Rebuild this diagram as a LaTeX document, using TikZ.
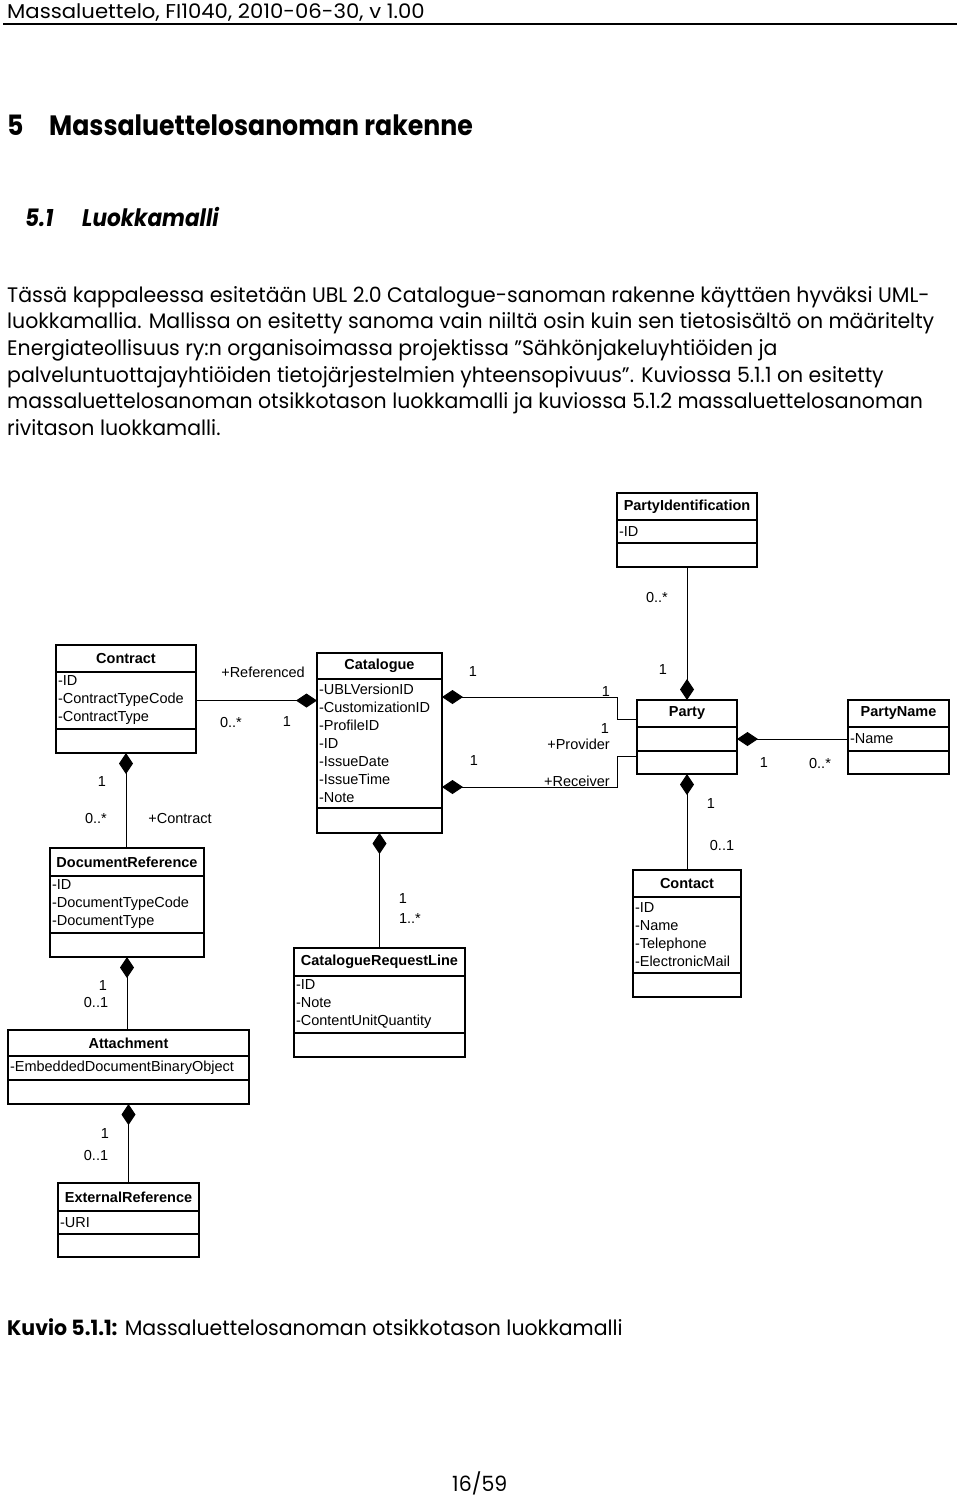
\documentclass[tikz,border=0pt]{standalone}
\usepackage{fontspec}
\setmainfont[FakeStretch=0.975]{Poppins}
\newfontfamily\headfont[FakeStretch=0.9]{Poppins}
\newfontfamily\hdrfont[FakeStretch=1.06]{Poppins}
\newfontfamily\umlfont{Liberation Sans}
\usetikzlibrary{arrows.meta}

\tikzset{
  classbox/.style={draw, line width=1.4pt, inner sep=0pt, outer sep=0pt},
  classhead/.style={classbox, font=\umlfont\bfseries\fontsize{14.5}{18}\selectfont},
  classattr/.style={classbox, font=\umlfont\fontsize{14.5}{18}\selectfont, align=left, inner xsep=2pt},
  assoc/.style={line width=1pt},
  comp/.style={assoc, {Diamond[length=21pt,width=14pt]}-},
  mult/.style={font=\umlfont\fontsize{14.5}{18}\selectfont, inner sep=0pt},
  pagetext/.style={anchor=base west, inner sep=0pt},
  bodytext/.style={pagetext, font=\fontsize{21}{26}\selectfont},
}

% name, left, top, width, head h, attr h, op h, title, attributes
\newcommand{\umlclass}[9]{%
  \pgfmathsetmacro\attrw{#4-4}
  \node[classhead, minimum width=#4pt, minimum height=#5pt, anchor=north west] (#1) at (#2,#3) {#8};
  \node[classattr, minimum width=#4pt, minimum height=#6pt, text width=\attrw pt, anchor=north] (#1-a) at (#1.south) {#9};
  \node[classbox, minimum width=#4pt, minimum height=#7pt, anchor=north] (#1-o) at (#1-a.south) {};
}

\begin{document}
\begin{tikzpicture}[x=1pt, y=-1pt]
  \useasboundingbox (0,0) rectangle (960,1497);

  % page header
  \node[pagetext, font=\hdrfont\fontsize{20}{22}\selectfont] (hdr) at (7,18) {Massaluettelo, FI1040, 2010-06-30, v 1.00};
  \draw [line width=1.3pt] (3,24) -- (957,24);

  % headings
  \node[pagetext, font=\headfont\bfseries\fontsize{28}{32}\selectfont] (h1num) at (7,135) {5};
  \node[pagetext, font=\headfont\bfseries\fontsize{28}{32}\selectfont] (h1) at (49,135) {Massaluettelosanoman rakenne};
  \node[pagetext, font=\headfont\bfseries\itshape\fontsize{24}{28}\selectfont] (h2num) at (25,226) {5.1};
  \node[pagetext, font=\headfont\bfseries\itshape\fontsize{24}{28}\selectfont] (h2) at (82,226) {Luokkamalli};

  % paragraph
  \node[bodytext] (par1) at (7,302) {Tässä kappaleessa esitetään UBL 2.0 Catalogue-sanoman rakenne käyttäen hyväksi UML-};
  \node[bodytext] (par2) at (7,328) {luokkamallia. Mallissa on esitetty sanoma vain niiltä osin kuin sen tietosisältö on määritelty};
  \node[bodytext] (par3) at (7,355) {Energiateollisuus ry:n organisoimassa projektissa ”Sähkönjakeluyhtiöiden ja};
  \node[bodytext] (par4) at (7,382) {palveluntuottajayhtiöiden tietojärjestelmien yhteensopivuus”. Kuviossa 5.1.1 on esitetty};
  \node[bodytext] (par5) at (7,408) {massaluettelosanoman otsikkotason luokkamalli ja kuviossa 5.1.2 massaluettelosanoman};
  \node[bodytext] (par6) at (7,435) {rivitason luokkamalli.};

  % classes
  \umlclass{pid}{617}{493}{140}{27}{23}{24}{PartyIdentification}{-ID}
  \umlclass{contract}{56}{645}{140}{27}{57}{24}{Contract}{-ID\\-ContractTypeCode\\-ContractType}
  \umlclass{catalogue}{317}{653}{125}{26}{129}{25}{Catalogue}{-UBLVersionID\\-CustomizationID\\-ProfileID\\-ID\\-IssueDate\\-IssueTime\\-Note}
  \umlclass{party}{637}{700}{100}{27}{24}{23}{Party}{}
  \umlclass{partyname}{848}{700}{101}{27}{24}{23}{PartyName}{-Name}
  \umlclass{docref}{50}{848}{154}{28}{57}{24}{DocumentReference}{-ID\\-DocumentTypeCode\\-DocumentType}
  \umlclass{crl}{294}{948}{171}{28}{57}{24}{CatalogueRequestLine}{-ID\\-Note\\-ContentUnitQuantity}
  \umlclass{contact}{633}{870}{108}{27}{76}{24}{Contact}{-ID\\-Name\\-Telephone\\-ElectronicMail}
  \umlclass{attach}{8}{1030}{241}{26}{24}{24}{Attachment}{-EmbeddedDocumentBinaryObject}
  \umlclass{extref}{58}{1183}{141}{28}{23}{23}{ExternalReference}{-URI}

  % compositions
  \draw [comp] (party.north) -- (pid-o.south);
  \draw [comp] (catalogue-a.west |- contract-a.east) -- (contract-a.east);
  \draw [comp] (contract-o.south) -- (contract-o.south |- docref.north);
  \draw [comp] ([yshift=-18pt]catalogue-a.north east) -- ++(175,0) |- ([yshift=-19pt]party.north west);
  \draw [comp] ([yshift=21pt]catalogue-a.south east) -- ++(175,0) |- ([yshift=-5pt]party-o.north west);
  \draw [comp] (party-a.east) -- (partyname-a.west);
  \draw [comp] (party-o.south) -- (contact.north);
  \draw [comp] (catalogue-o.south) -- (crl.north);
  \draw [comp] (docref-o.south) -- (docref-o.south |- attach.north);
  \draw [comp] (attach-o.south) -- (attach-o.south |- extref.north);

  % multiplicities and roles
  \node[mult] (m-pid) at (657,597) {0..*};
  \node[mult] (m-pid-party) at (663,670) {1};
  \node[mult] (r-ref) at (263,672) {+Referenced};
  \node[mult] (m-ref-contract) at (231,722) {0..*};
  \node[mult] (m-ref-cat) at (287,722) {1};
  \node[mult] (m-con-1) at (102,782) {1};
  \node[mult] (m-con-2) at (96,818) {0..*};
  \node[mult] (r-con) at (180,818) {+Contract};
  \node[mult] (m-prov-cat) at (473,672) {1};
  \node[mult] (m-prov-party) at (606,692) {1};
  \node[mult] (m-recv-party) at (605,729) {1};
  \node[mult, anchor=east] (r-prov) at (610,744) {+Provider};
  \node[mult] (m-recv-cat) at (474,761) {1};
  \node[mult, anchor=east] (r-recv) at (610,781) {+Receiver};
  \node[mult] (m-name-party) at (764,763) {1};
  \node[mult] (m-name) at (820,763) {0..*};
  \node[mult] (m-contact-party) at (711,803) {1};
  \node[mult] (m-contact) at (722,845) {0..1};
  \node[mult] (m-crl-cat) at (403,898) {1};
  \node[mult] (m-crl) at (410,918) {1..*};
  \node[mult] (m-att-doc) at (103,985) {1};
  \node[mult] (m-att) at (96,1002) {0..1};
  \node[mult] (m-ext-att) at (105,1133) {1};
  \node[mult] (m-ext) at (96,1155) {0..1};

  % caption and page number
  \node[bodytext] (cap) at (7,1335) {\textbf{Kuvio 5.1.1:} Massaluettelosanoman otsikkotason luokkamalli};
  \node[bodytext] (pagenum) at (452,1491) {16/59};
\end{tikzpicture}
\end{document}
